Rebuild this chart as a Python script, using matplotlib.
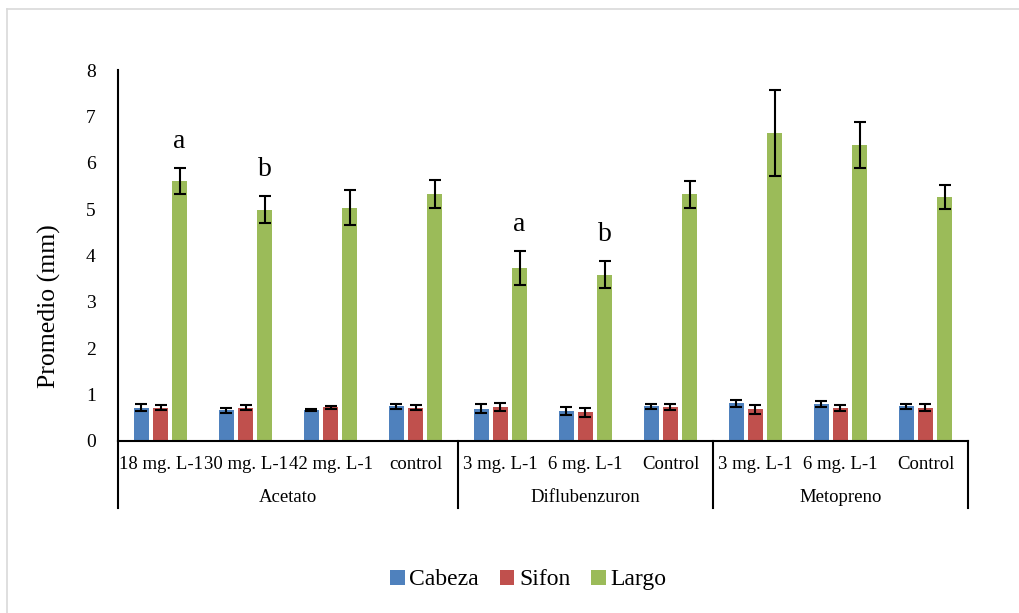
import matplotlib
matplotlib.use("Agg")
import matplotlib.pyplot as plt
import matplotlib.transforms as mtransforms
from matplotlib.patches import Patch
import numpy as np

plt.rcParams['font.family'] = ['Liberation Serif', 'DejaVu Serif']

categories = ['18 mg. L-1', '30 mg. L-1', '42 mg. L-1', 'control',
              '3 mg. L-1', '6 mg. L-1', 'Control',
              '3 mg. L-1', '6 mg. L-1', 'Control']
groups = ['Acetato', 'Diflubenzuron', 'Metopreno']
group_sizes = [4, 3, 3]

cabeza = [0.72, 0.66, 0.67, 0.75, 0.70, 0.65, 0.75, 0.81, 0.80, 0.75]
cabeza_err = [0.07, 0.05, 0.03, 0.05, 0.10, 0.08, 0.05, 0.07, 0.07, 0.05]
sifon = [0.72, 0.72, 0.73, 0.72, 0.74, 0.62, 0.73, 0.68, 0.71, 0.72]
sifon_err = [0.06, 0.05, 0.03, 0.05, 0.09, 0.10, 0.06, 0.09, 0.06, 0.07]
largo = [5.61, 4.99, 5.03, 5.32, 3.73, 3.59, 5.32, 6.64, 6.38, 5.26]
largo_err = [0.28, 0.29, 0.38, 0.30, 0.37, 0.29, 0.29, 0.92, 0.50, 0.26]

# significance letters above some Largo bars: (category index, letter)
letters = [(0, 'a'), (1, 'b'), (4, 'a'), (5, 'b')]

colors = ['#4F81BD', '#C0504D', '#9BBB59']
names = ['Cabeza', 'Sifon', 'Largo']

fig = plt.figure(figsize=(10.2, 6.13), dpi=100)
ax = fig.add_axes([0.1157, 0.2806, 0.8333, 0.6052])

x = np.arange(len(categories))
w = 0.17
step = 0.224
series = [(cabeza, cabeza_err), (sifon, sifon_err), (largo, largo_err)]
for i, (vals, errs) in enumerate(series):
    pos = x + (i - 1) * step
    ax.bar(pos, vals, w, color=colors[i], zorder=2)
    ax.errorbar(pos, vals, yerr=errs, fmt='none', ecolor='black',
                elinewidth=1.5, capsize=4, capthick=1.5, zorder=3)

for idx, letter in letters:
    ax.text(x[idx] + step, largo[idx] + largo_err[idx] + 0.3, letter,
            ha='center', va='bottom', fontsize=20)

ax.set_xlim(-0.5, len(categories) - 0.5)
ax.set_ylim(0, 8)
ax.set_yticks(range(0, 9))
ax.tick_params(axis='y', length=0, labelsize=14, pad=16)
ax.set_xticks(x)
ax.set_xticklabels(categories, fontsize=13.5)
ax.tick_params(axis='x', length=0, pad=11)
ax.set_ylabel('Promedio (mm)', fontsize=18.5)
ax.yaxis.set_label_coords(-0.067, 0.364)

for s in ['top', 'right']:
    ax.spines[s].set_visible(False)
for s in ['left', 'bottom']:
    ax.spines[s].set_linewidth(1.5)
    ax.spines[s].set_color('black')

# group separators and group names below the category labels
trans = mtransforms.blended_transform_factory(ax.transData, ax.transAxes)
edges = np.concatenate([[0], np.cumsum(group_sizes)]) - 0.5
for e in edges:
    ax.plot([e, e], [0, -0.18], color='black', lw=1.5,
            transform=trans, clip_on=False)
for g, a, b in zip(groups, edges[:-1], edges[1:]):
    ax.text((a + b) / 2, -0.151, g, transform=trans, ha='center',
            va='center', fontsize=13.5)

handles = [Patch(facecolor=c, label=n) for c, n in zip(colors, names)]
fig.legend(handles=handles, loc='center', bbox_to_anchor=(0.518, 0.054),
           ncol=3, frameon=False, fontsize=17, handlelength=0.6,
           handleheight=0.6, handletextpad=0.2, columnspacing=0.9)

# light outer frame
fig.add_artist(plt.Line2D([7 / 1020, 1], [1 - 9 / 613] * 2,
                          color='#d9d9d9', lw=1.2, transform=fig.transFigure))
fig.add_artist(plt.Line2D([7 / 1020] * 2, [0, 1 - 9 / 613],
                          color='#d9d9d9', lw=1.2, transform=fig.transFigure))

fig.savefig('out.png', dpi=100)
